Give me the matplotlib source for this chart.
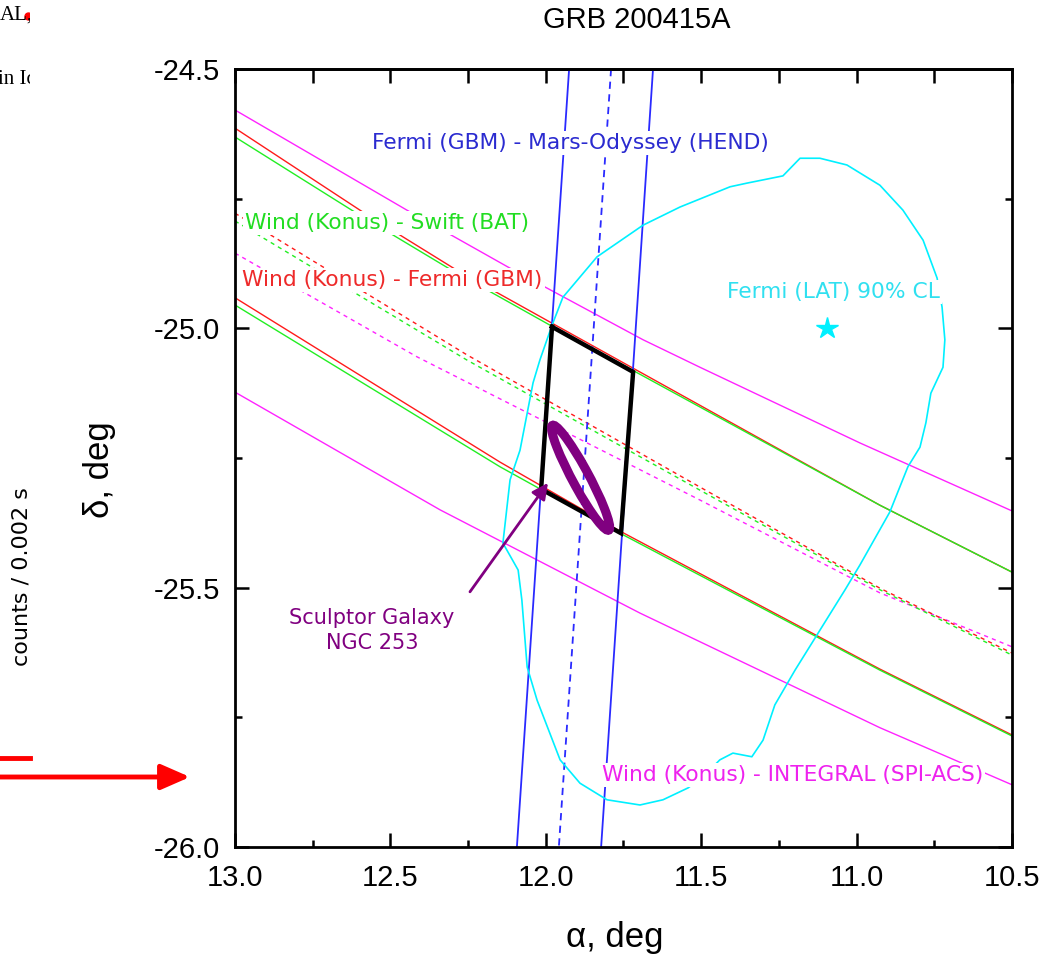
import numpy as np
import matplotlib.pyplot as plt
from matplotlib.patches import Ellipse, Rectangle

# Annulus boundaries (alpha, delta in deg)
# Wind (Konus) - INTEGRAL (SPI-ACS)
int_up_ra = [13.0, 12.447, 12.115, 11.687, 11.504, 10.989, 10.5]
int_up_dec = [-24.579, -24.772, -24.884, -25.022, -25.075, -25.221, -25.352]
int_mid_ra = [13.0, 12.414, 11.504, 10.925, 10.5]
int_mid_dec = [-24.855, -25.055, -25.331, -25.510, -25.614]
int_lo_ra = [13.0, 12.340, 11.697, 10.925, 10.5]
int_lo_dec = [-25.123, -25.350, -25.549, -25.770, -25.880]

# Wind (Konus) - Fermi (GBM)
gbm_up_ra = [13.0, 12.588, 12.286, 11.986, 10.925, 10.5]
gbm_up_dec = [-24.614, -24.776, -24.888, -24.988, -25.341, -25.470]
gbm_mid_ra = [13.0, 12.254, 11.504, 10.925, 10.5]
gbm_mid_dec = [-24.778, -25.051, -25.306, -25.501, -25.626]
gbm_lo_ra = [13.0, 12.147, 11.761, 10.925, 10.5]
gbm_lo_dec = [-24.941, -25.258, -25.391, -25.657, -25.784]

# Wind (Konus) - Swift (BAT)
bat_up_ra = [13.0, 12.614, 12.308, 11.986, 10.925, 10.5]
bat_up_dec = [-24.631, -24.776, -24.886, -24.994, -25.341, -25.470]
bat_mid_ra = [13.0, 12.254, 11.504, 10.925, 10.5]
bat_mid_dec = [-24.793, -25.061, -25.312, -25.504, -25.630]
bat_lo_ra = [13.0, 12.147, 11.761, 10.925, 10.5]
bat_lo_dec = [-24.955, -25.267, -25.395, -25.659, -25.786]

# Fermi (GBM) - Mars-Odyssey (HEND), nearly vertical
mo_dec = [-24.5, -26.0]
mo_left_ra = [11.925, 12.093]
mo_mid_ra = [11.790, 11.958]
mo_right_ra = [11.655, 11.822]

# Fermi (LAT) 90% contour
lat_ra = [11.980, 12.019, 12.041, 12.083, 12.115, 12.138, 12.089, 12.077, 12.060, 12.028,
          11.954, 11.890, 11.803, 11.697, 11.623, 11.542, 11.488, 11.440, 11.398, 11.337,
          11.301, 11.263, 11.198, 11.118, 11.037, 10.989, 10.893, 10.835, 10.796, 10.777,
          10.761, 10.722, 10.716, 10.725, 10.741, 10.786, 10.851, 10.925, 11.031, 11.118,
          11.182, 11.237, 11.353, 11.407, 11.568, 11.687, 11.835, 11.945, 11.980]
lat_dec = [-24.994, -25.061, -25.105, -25.235, -25.292, -25.414, -25.466, -25.524, -25.653, -25.717,
           -25.832, -25.877, -25.909, -25.919, -25.909, -25.886, -25.861, -25.832, -25.819, -25.826,
           -25.794, -25.726, -25.659, -25.582, -25.504, -25.456, -25.354, -25.267, -25.229, -25.182,
           -25.125, -25.075, -25.022, -24.959, -24.903, -24.830, -24.772, -24.724, -24.685, -24.672,
           -24.672, -24.706, -24.720, -24.727, -24.766, -24.801, -24.862, -24.940, -24.994]
lat_best = (11.095, -24.999)

# Localization box corners
box_ra = [11.980, 11.719, 11.758, 12.015, 11.980]
box_dec = [-24.997, -25.084, -25.395, -25.310, -24.997]

# NGC 253 (center, full axes in deg, angle in data frame)
ngc_center = (11.888, -25.288)
ngc_width = 0.272
ngc_height = 0.046
ngc_angle = 47.4

blue = "#2a2aff"
green = "#22ee22"
red = "#ff1a1a"
magenta = "#ff22ff"
cyan = "#00f0ff"
purple = "#800080"

plt.rcParams['font.family'] = ['Liberation Sans', 'DejaVu Sans']
plt.rcParams['axes.unicode_minus'] = False

fig = plt.figure(figsize=(10.61, 9.55), dpi=100)
ax = fig.add_axes([0.2215, 0.1131, 0.7323, 0.8146])

# Konus annuli
ax.plot(int_up_ra, int_up_dec, color=magenta, lw=1.0, zorder=2)
ax.plot(int_mid_ra, int_mid_dec, color=magenta, lw=1.0, dashes=(3, 3), zorder=2)
ax.plot(int_lo_ra, int_lo_dec, color=magenta, lw=1.0, zorder=2)
ax.plot(gbm_up_ra, gbm_up_dec, color=red, lw=1.0, zorder=2)
ax.plot(gbm_mid_ra, gbm_mid_dec, color=red, lw=1.0, dashes=(3, 3), zorder=2)
ax.plot(gbm_lo_ra, gbm_lo_dec, color=red, lw=1.0, zorder=2)
ax.plot(bat_up_ra, bat_up_dec, color=green, lw=1.0, zorder=2)
ax.plot(bat_mid_ra, bat_mid_dec, color=green, lw=1.0, dashes=(3, 3), zorder=2)
ax.plot(bat_lo_ra, bat_lo_dec, color=green, lw=1.0, zorder=2)

# Fermi - Mars-Odyssey annulus
ax.plot(mo_left_ra, mo_dec, color=blue, lw=1.3, zorder=2)
ax.plot(mo_mid_ra, mo_dec, color=blue, lw=1.3, dashes=(4, 3), zorder=2)
ax.plot(mo_right_ra, mo_dec, color=blue, lw=1.3, zorder=2)

# LAT contour and position
ax.plot(lat_ra, lat_dec, color=cyan, lw=1.2, zorder=2)
ax.plot(*lat_best, marker="*", color=cyan, ms=16, zorder=3)

# box and galaxy
ax.plot(box_ra, box_dec, color="black", lw=3.2, solid_joinstyle="miter", zorder=6)
ax.add_patch(Ellipse(ngc_center, ngc_width, ngc_height, angle=ngc_angle, fill=False,
                     ec=purple, lw=6.5, zorder=6))
ax.annotate("", xy=(11.993, -25.298), xytext=(12.244, -25.508),
            arrowprops=dict(arrowstyle="-|>", color=purple, lw=2, mutation_scale=24,
                            shrinkA=0, shrinkB=0), zorder=6)

# labels
lab = dict(family="DejaVu Sans", fontsize=15.7, zorder=5,
           bbox=dict(facecolor="white", edgecolor="none", pad=1.5))
ax.text(11.922, -24.643, "Fermi (GBM) - Mars-Odyssey (HEND)", color="#2b2bd0",
        ha="center", va="center", **lab)
ax.text(12.968, -24.797, "Wind (Konus) - Swift (BAT)", color="#22dd22",
        ha="left", va="center", **lab)
ax.text(12.977, -24.907, "Wind (Konus) - Fermi (GBM)", color="#ee2a2a",
        ha="left", va="center", **lab)
ax.text(11.076, -24.930, "Fermi (LAT) 90% CL", color="#30e0f0",
        ha="center", va="center", **lab)
ax.text(11.819, -25.861, "Wind (Konus) - INTEGRAL (SPI-ACS)", color="#ee22ee",
        ha="left", va="center", **lab)
ax.text(12.559, -25.582, "Sculptor Galaxy\nNGC 253", color=purple, ha="center",
        va="center", linespacing=1.3, family="DejaVu Sans", fontsize=15, zorder=5)

# axes
ax.set_xlim(13.0, 10.5)
ax.set_ylim(-26.0, -24.5)
ax.set_xticks([13.0, 12.5, 12.0, 11.5, 11.0, 10.5])
ax.set_xticks([12.75, 12.25, 11.75, 11.25, 10.75], minor=True)
ax.set_yticks([-26.0, -25.5, -25.0, -24.5])
ax.set_yticks([-25.75, -25.25, -24.75], minor=True)
ax.xaxis.set_major_formatter("{x:.1f}")
ax.yaxis.set_major_formatter("{x:.1f}")
ax.tick_params(which="both", direction="in", right=True, top=False, width=1.8,
               labelsize=21)
ax.tick_params(which="major", length=10)
ax.tick_params(which="minor", length=5)
ax.tick_params(axis="x", pad=12)
ax.tick_params(axis="y", pad=11)
for s in ax.spines.values():
    s.set_linewidth(2)

top = ax.secondary_xaxis("top")
top.set_xticks([13.0, 12.75, 12.5, 12.25, 12.0, 11.75, 11.5, 11.25, 11.0, 10.75, 10.5])
top.tick_params(direction="in", length=10, width=1.8, labeltop=False)
top.spines["top"].set_linewidth(2)

fig.text(637 / 1061, 1 - 20 / 955, "GRB 200415A", fontsize=21, ha="center", va="center")
fig.text(615 / 1061, 1 - 937 / 955, "α, deg", fontsize=25, ha="center", va="center")
fig.text(100 / 1061, 1 - 470 / 955, "δ, deg", fontsize=25, rotation=90,
         ha="center", va="center")

# cropped bits of the neighbouring page on the left
fig.text(0, 1 - 15 / 955, "AL,", family="Liberation Serif", fontsize=15, ha="left", va="center")
fig.text(-0.002, 1 - 80 / 955, "in Ic", family="Liberation Serif", fontsize=15,
         ha="left", va="center")
fig.add_artist(Rectangle((30 / 1061, 1 - 110 / 955), 15 / 1061, 110 / 955,
                         transform=fig.transFigure, facecolor="white", edgecolor="none",
                         zorder=10))
fig.add_artist(plt.Line2D([28 / 1061], [1 - 16 / 955], marker="o", ms=5, color="red",
                          transform=fig.transFigure))
fig.text(22 / 1061, 1 - 577 / 955, "counts / 0.002 s", family="DejaVu Sans", fontsize=16,
         rotation=90, ha="center", va="center")
fig.add_artist(plt.Line2D([0, 30 / 1061], [1 - 758 / 955, 1 - 758 / 955], color="red",
                          lw=3.5, transform=fig.transFigure))
ax.annotate("", xy=(190, 955 - 777), xytext=(0, 955 - 777), xycoords="figure pixels",
            textcoords="figure pixels", annotation_clip=False,
            arrowprops=dict(arrowstyle="-|>,head_length=0.8,head_width=0.35", color="red",
                            lw=3.5, mutation_scale=22, shrinkA=0, shrinkB=0))

plt.savefig("out.png", dpi=100)
